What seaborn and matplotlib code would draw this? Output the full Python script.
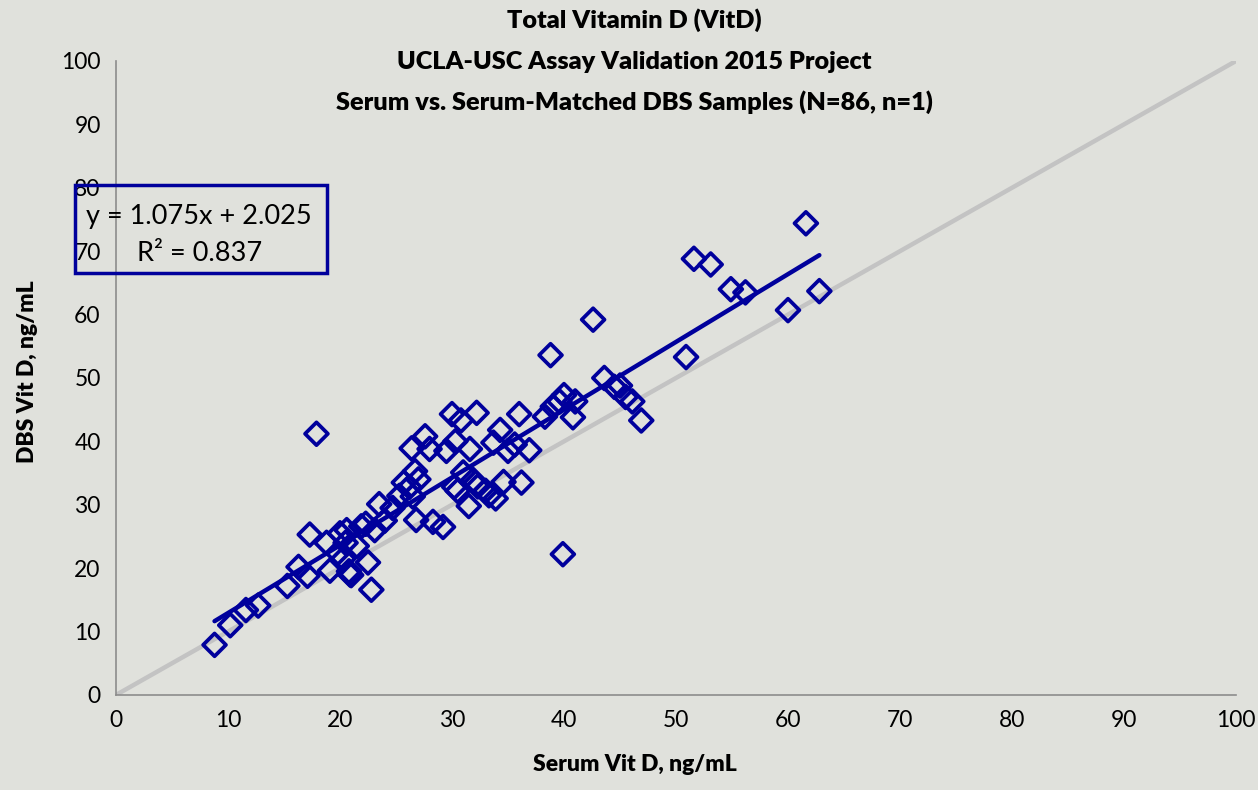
import matplotlib
matplotlib.use("Agg")
import matplotlib.pyplot as plt
import seaborn as sns
import pandas as pd
from matplotlib.patches import Rectangle

serum = [8.8, 10.2, 11.6, 12.7, 15.3, 16.3, 17.1, 17.3, 17.9, 18.8,
         19.1, 19.8, 20.0, 20.3, 20.5, 20.6, 20.8, 20.9, 21.0, 21.5,
         21.9, 22.3, 22.5, 22.8, 23.1, 23.5, 24.0, 24.7, 25.3, 25.7,
         26.2, 26.4, 26.5, 26.7, 26.8, 27.0, 27.6, 28.0, 28.3, 29.2,
         29.5, 30.0, 30.2, 30.3, 30.5, 30.8, 31.0, 31.5, 31.6, 31.9,
         32.2, 32.3, 33.0, 33.3, 33.7, 33.9, 34.3, 34.6, 35.0, 35.6,
         36.0, 36.2, 36.9, 38.3, 38.8, 39.0, 39.6, 39.9, 40.0, 40.8,
         41.0, 42.6, 43.6, 44.5, 45.0, 45.5, 46.1, 46.9, 50.9, 51.6,
         53.1, 54.9, 56.2, 60.0, 61.6, 62.8]
dbs = [7.9, 11.0, 13.4, 14.1, 17.2, 20.2, 18.8, 25.3, 41.2, 24.0,
       19.6, 22.4, 25.5, 21.5, 24.0, 26.0, 19.5, 19.0, 18.9, 23.5,
       26.6, 27.0, 20.9, 16.6, 26.0, 30.1, 27.5, 29.5, 31.4, 33.5,
       32.8, 38.9, 31.3, 35.3, 27.6, 34.0, 40.8, 38.8, 27.3, 26.5,
       38.5, 44.3, 32.8, 40.0, 32.2, 43.3, 35.1, 29.8, 38.8, 33.9,
       44.5, 32.9, 32.2, 31.5, 39.8, 31.0, 41.8, 33.6, 38.5, 39.5,
       44.3, 33.5, 38.6, 43.9, 53.6, 45.5, 46.3, 22.2, 47.3, 43.8,
       46.3, 59.2, 50.0, 48.6, 48.8, 47.0, 46.3, 43.3, 53.3, 68.8,
       67.9, 64.0, 63.5, 60.7, 74.4, 63.7]

title_lines = ["Total Vitamin D (VitD)",
               "UCLA-USC Assay Validation 2015 Project",
               "Serum vs. Serum-Matched DBS Samples (N=86, n=1)"]
eq_text = "y = 1.075x + 2.025"
r2_text = "R\u00b2 = 0.837"
xlabel = "Serum Vit D, ng/mL"
ylabel = "DBS Vit D, ng/mL"

df = pd.DataFrame({"serum": serum, "dbs": dbs})

BG = "#E0E1DC"
BLUE = "#00009C"
sns.set_style("white")
plt.rcParams["font.family"] = ["Lato", "DejaVu Sans"]
plt.rcParams["text.color"] = "black"
plt.rcParams["axes.labelcolor"] = "black"

fig = plt.figure(figsize=(12.58, 7.9), dpi=100, facecolor=BG)
ax = fig.add_axes([0.0922, 0.1203, 0.8903, 0.8025])
ax.set_facecolor(BG)

ax.axline((0, 0), slope=1, color="#C3C3C3", lw=3.2, zorder=1)
sns.regplot(data=df, x="serum", y="dbs", scatter=False, ci=None, truncate=True,
            line_kws=dict(color=BLUE, lw=3.2, solid_capstyle="round"), ax=ax)
sns.scatterplot(data=df, x="serum", y="dbs", marker="D", s=135,
                edgecolor=BLUE, linewidth=2.7, ax=ax, zorder=3)
ax.collections[-1].set_facecolor("none")

ax.set_xlim(0, 100)
ax.set_ylim(0, 100)
ax.set_xticks(range(0, 101, 10))
ax.set_yticks(range(0, 101, 10))
ax.tick_params(axis="both", labelsize=16.5, labelcolor="black", length=6,
               width=1.2, direction="out", color="#8C8C8C", pad=5)
for s in ["top", "right"]:
    ax.spines[s].set_visible(False)
for s in ["left", "bottom"]:
    ax.spines[s].set_color("#8C8C8C")
    ax.spines[s].set_linewidth(1.2)

ax.set_xlabel(xlabel, fontsize=16.5, fontweight="heavy", color="black")
ax.set_ylabel(ylabel, fontsize=16.5, fontweight="heavy", color="black")
ax.xaxis.set_label_coords(0.463, -0.093)
ax.yaxis.set_label_coords(-0.070, 0.51)

for line, yy in zip(title_lines, [0.9747, 0.9215, 0.8709]):
    fig.text(0.504, yy, line, ha="center", va="center",
             fontsize=18.2, fontweight="heavy", color="black")

box = Rectangle((-0.0366, 0.6656), 0.225, 0.1384, transform=ax.transAxes,
                fill=False, edgecolor=BLUE, lw=2.5, clip_on=False, zorder=5)
ax.add_patch(box)
ax.text(0.074, 0.754, eq_text, transform=ax.transAxes, ha="center", va="center",
        fontsize=19.5, color="black")
ax.text(0.075, 0.697, r2_text, transform=ax.transAxes, ha="center", va="center",
        fontsize=19.5, color="black")

fig.savefig("out.png", dpi=100, facecolor=BG)
